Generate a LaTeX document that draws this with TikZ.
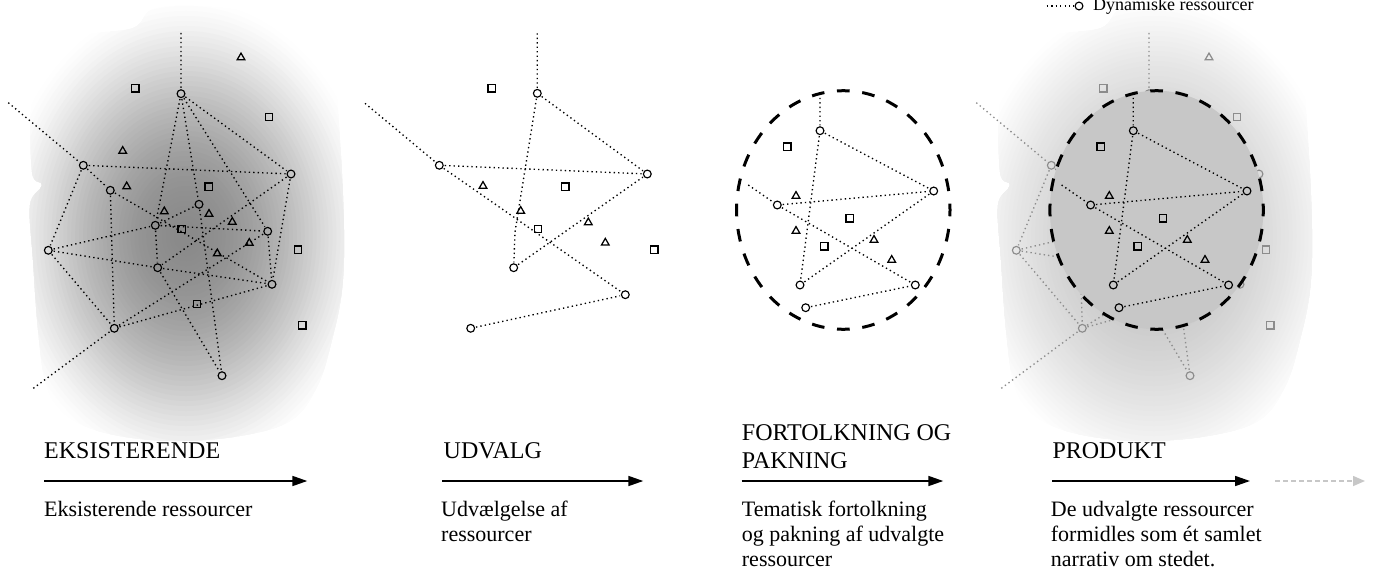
\documentclass[tikz,border=0pt]{standalone}
\usepackage{fontspec}
\setmainfont{Liberation Serif}
\usetikzlibrary{shapes.geometric,arrows.meta}
\tikzset{
  rc/.style={circle, draw, minimum size=7.8pt, inner sep=0pt, line width=1.15pt, outer sep=1.5pt},
  sq/.style={rectangle, draw, minimum size=7.3pt, inner sep=0pt, line width=1.35pt},
  tri/.style={regular polygon, regular polygon sides=3, draw, minimum size=8.8pt, inner sep=0pt, line width=1.25pt},
  dotline/.style={line width=1.35pt, dash pattern=on 1.35pt off 3.1pt},
  title/.style={anchor=base west, inner sep=0pt, font=\fontsize{24}{28}\selectfont},
  body/.style={anchor=base west, inner sep=0pt, font=\fontsize{22}{25}\selectfont},
  flow/.style={line width=1.7pt, -{Triangle[length=15pt,width=10pt]}},
  bigdash/.style={line width=3pt, dash pattern=on 12.7pt off 12.68pt, dash phase=6.35pt},
}
\newcommand\netA[3]{%
\begin{scope}[shift={(#1,0)},color=#3]
\node[rc] (#2c1) at (181,93.7) {};
\node[rc] (#2c2) at (83.3,165.3) {};
\node[rc] (#2c3) at (291,174) {};
\node[rc] (#2c4) at (110.3,190.3) {};
\node[rc] (#2c5) at (199,204.3) {};
\node[rc] (#2c6) at (155.3,225.3) {};
\node[rc] (#2c7) at (267.7,231.3) {};
\node[rc] (#2c8) at (48.3,250.3) {};
\node[rc] (#2c9) at (157.7,267.7) {};
\node[rc] (#2c10) at (272,284.3) {};
\node[rc] (#2c11) at (114.3,328.3) {};
\node[rc] (#2c12) at (222,375.7) {};
\coordinate (#2t1) at (181,33);
\coordinate (#2t2) at (8.3,102.7);
\coordinate (#2t3) at (33.3,388.3);
\node[sq] (#2s1) at (135.3,88.3) {};
\node[sq] (#2s2) at (269,117) {};
\node[sq] (#2s3) at (208.7,186.7) {};
\node[sq] (#2s4) at (181.7,229) {};
\node[sq] (#2s5) at (298,249.7) {};
\node[sq] (#2s6) at (197,304) {};
\node[sq] (#2s7) at (302.3,325.3) {};
\node[tri] (#2r1) at (241,57.5) {};
\node[tri] (#2r2) at (122.7,151) {};
\node[tri] (#2r3) at (126.7,186.5) {};
\node[tri] (#2r4) at (164.3,211.5) {};
\node[tri] (#2r5) at (209,214) {};
\node[tri] (#2r6) at (232.3,222) {};
\node[tri] (#2r7) at (249.3,243) {};
\node[tri] (#2r8) at (217.3,253.5) {};
\draw[dotline] (#2t1) -- (#2c1) (#2t2) -- (#2c2) (#2t3) -- (#2c11)
  (#2c1) -- (#2c6) (#2c1) -- (#2c5) (#2c1) -- (#2c7) (#2c1) -- (#2c3)
  (#2c2) -- (#2c3) (#2c2) -- (#2c4) (#2c2) -- (#2c8) (#2c4) -- (#2c10)
  (#2c4) -- (#2c11) (#2c8) -- (#2c6) (#2c6) -- (#2c5) (#2c8) -- (#2c9)
  (#2c9) -- (#2c10) (#2c8) -- (#2c11) (#2c3) -- (#2c10) (#2c3) -- (#2c9)
  (#2c11) -- (#2c10) (#2c5) -- (#2c12) (#2c9) -- (#2c12) (#2c6) -- (#2c9)
  (#2c6) -- (#2c7) (#2c7) -- (#2c10) (#2c7) -- (#2c11);
\end{scope}}
\newcommand\netC[3]{%
\begin{scope}[shift={(#1,0)},color=#3]
\node[rc] (#2c1) at (820,130.7) {};
\node[rc] (#2c3) at (933.7,191) {};
\node[rc] (#2c2) at (777.3,205) {};
\node[rc] (#2c9) at (800,285) {};
\node[rc] (#2c10) at (915.3,285) {};
\node[rc] (#2c11) at (805.7,307.7) {};
\coordinate (#2t1) at (820,93.3);
\coordinate (#2t2) at (748.3,185);
\node[sq] (#2s1) at (787.3,146.7) {};
\node[sq] (#2s2) at (849.7,218.3) {};
\node[sq] (#2s3) at (824.3,246.3) {};
\node[tri] (#2r1) at (796,196) {};
\node[tri] (#2r2) at (796,231) {};
\node[tri] (#2r3) at (874,240) {};
\node[tri] (#2r4) at (891.7,260) {};
\draw[dotline] (#2t1) -- (#2c1) (#2t2) -- (#2c2) (#2c1) -- (#2c9)
  (#2c1) -- (#2c3) (#2c2) -- (#2c3) (#2c2) -- (#2c10) (#2c9) -- (#2c3)
  (#2c11) -- (#2c10);
\end{scope}}
\newcommand\blobpath{plot[smooth cycle, tension=0.6] coordinates {(80,37) (133,28) (153,9) (200,6) (262,14) (310,32) (333,70) (340,140) (344,230) (342,290) (332,340) (318,385) (292,420) (240,436) (170,441) (105,433) (64,414) (46,385) (38,330) (33,260) (30,205) (42,185) (32,172) (32,100) (50,68)}}
% #1 x shift, #2 max darkness, #3 exponent
\newcommand\blobfill[3]{%
\begin{scope}[shift={(#1,0)}]
  \clip \blobpath;
  \foreach \k in {48,47,...,1}{
    \pgfmathsetmacro\rr{\k/48}
    \pgfmathsetmacro\dd{#2*(1-\rr*\rr)^#3}
    \pgfmathsetmacro\ra{190*\rr}
    \pgfmathsetmacro\rb{240*\rr}
    \fill[black!\dd] (186,236) ellipse (\ra pt and \rb pt);
  }
\end{scope}}
\begin{document}
\begin{tikzpicture}[x=1pt,y=-1pt]
\useasboundingbox (0,0) rectangle (1373,578);
% panel 1 background
\blobfill{0}{46}{1.5}
\netA{0}{p}{black}
% panel 2
\node[rc] (q1) at (537.3,93.3) {};
\node[rc] (q2) at (439.3,165.3) {};
\node[rc] (q3) at (647.3,174) {};
\node[rc] (q9) at (513.7,267.7) {};
\node[rc] (q10) at (625.3,294.7) {};
\node[rc] (q11) at (470.7,328.3) {};
\coordinate (qt1) at (537.3,33.3);
\coordinate (qt2) at (365,103.3);
\coordinate (q6) at (515,232);
\node[sq] (qs1) at (491.7,88.3) {};
\node[sq] (qs2) at (565.3,186.7) {};
\node[sq] (qs3) at (538,229) {};
\node[sq] (qs4) at (654.3,249.7) {};
\node[tri] (qr1) at (483,186) {};
\node[tri] (qr2) at (520.7,211) {};
\node[tri] (qr3) at (588.3,222.5) {};
\node[tri] (qr4) at (605.3,242.8) {};
\draw[dotline] (qt1) -- (q1) (qt2) -- (q2) (q1) -- (q6) -- (q9)
  (q1) -- (q3) (q2) -- (q3) (q2) -- (q10) (q9) -- (q3) (q11) -- (q10);
% panel 3
\netC{0}{e}{black}
\draw[bigdash] (843.3,210) ellipse (106.7pt and 119.3pt);
% panel 4
\blobfill{968}{24}{1.2}
\netA{968}{g}{black!45}
\fill[black!22] (1156.6,210) ellipse (106.7pt and 119.3pt);
\netC{313.3}{f}{black}
\draw[bigdash] (1156.6,210) ellipse (106.7pt and 119.3pt);
% legend
\node[rc] (lg) at (1079,6) {};
\coordinate (lgs) at (1046.7,6);
\draw[dotline] (lgs) -- (lg);
\node[anchor=base west, inner sep=0pt, font=\fontsize{18}{20}\selectfont] (lgt) at (1093,11) {Dynamiske ressourcer};
% arrows
\coordinate (a1s) at (44,481); \coordinate (a1e) at (307.3,481);
\coordinate (a2s) at (442.3,481); \coordinate (a2e) at (643.3,481);
\coordinate (a3s) at (741.7,481); \coordinate (a3e) at (943.3,481);
\coordinate (a4s) at (1052.3,481); \coordinate (a4e) at (1250,481);
\coordinate (a5s) at (1275,481); \coordinate (a5e) at (1365,481);
\draw[flow] (a1s) -- (a1e);
\draw[flow] (a2s) -- (a2e);
\draw[flow] (a3s) -- (a3e);
\draw[flow] (a4s) -- (a4e);
\draw[line width=1.5pt, black!22, dash pattern=on 5pt off 3pt, -{Triangle[length=12pt,width=10pt]}] (a5s) -- (a5e);
% texts
\node[title] (h1) at (44,458.3) {EKSISTERENDE};
\node[body] (b1) at (44,516.7) {Eksisterende ressourcer};
\node[title] (h2) at (443.5,458.3) {UDVALG};
\node[body] (b2a) at (441,516.7) {Udvælgelse af};
\node[body] (b2b) at (441,541.7) {ressourcer};
\node[title] (h3a) at (741.7,440) {FORTOLKNING OG};
\node[title] (h3b) at (741.7,468.3) {PAKNING};
\node[body] (b3a) at (741.7,516) {Tematisk fortolkning};
\node[body] (b3b) at (741.7,541) {og pakning af udvalgte};
\node[body] (b3c) at (741.7,566) {ressourcer};
\node[title] (h4) at (1052.3,458.3) {PRODUKT};
\node[body] (b4a) at (1050.7,516) {De udvalgte ressourcer};
\node[body] (b4b) at (1050.7,541) {formidles som ét samlet};
\node[body] (b4c) at (1050.7,566) {narrativ om stedet.};
\end{tikzpicture}
\end{document}
